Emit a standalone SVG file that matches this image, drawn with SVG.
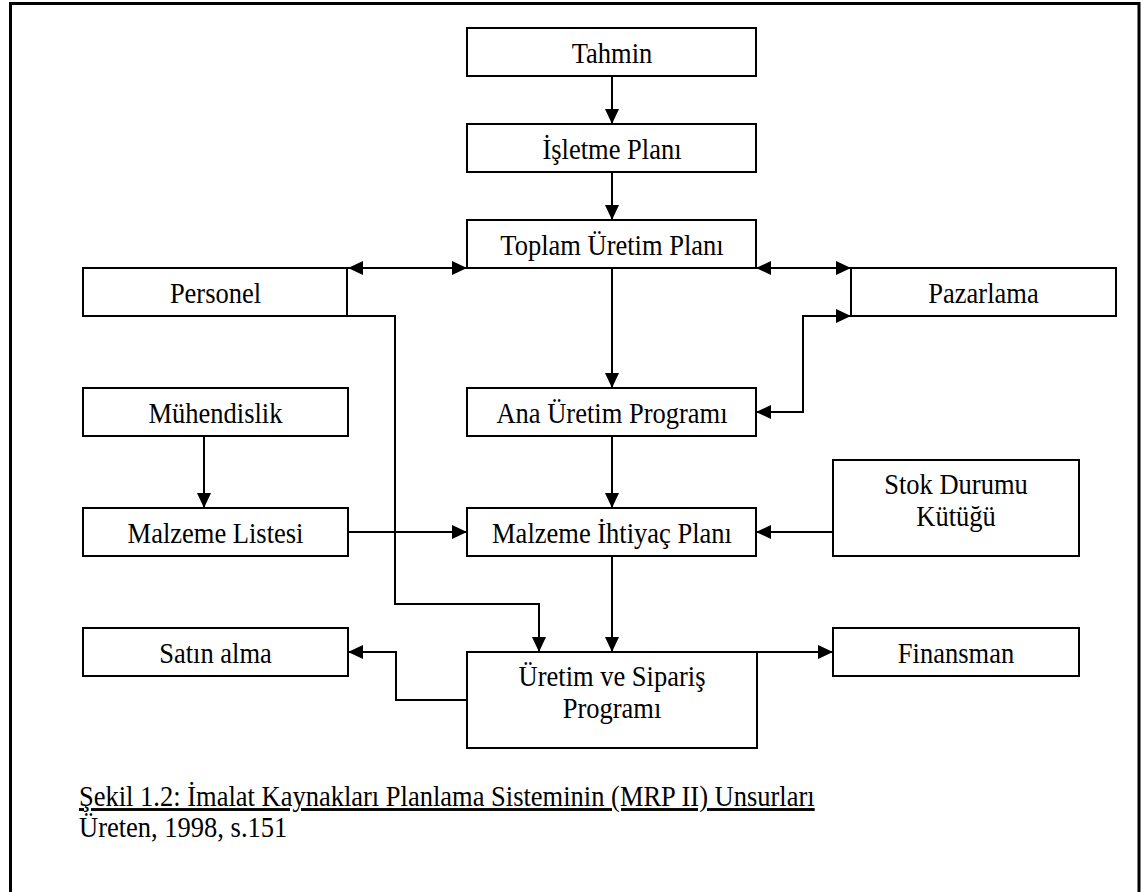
<svg xmlns="http://www.w3.org/2000/svg" width="1141" height="892" viewBox="0 0 1141 892">
  <style>
    .box { fill: #ffffff; stroke: #000000; stroke-width: 2; }
    .lbl { font-family: "Liberation Serif", "Times New Roman", serif; font-size: 26.5px; fill: #000000; text-anchor: middle; }
    .cap { font-family: "Liberation Serif", "Times New Roman", serif; font-size: 26.5px; fill: #000000; }
    .wire { fill: none; stroke: #000000; stroke-width: 2; }
    .frame { fill: none; stroke: #000000; stroke-width: 3; }
  </style>
  <defs>
    <marker id="ah" markerUnits="userSpaceOnUse" markerWidth="16" markerHeight="14" refX="15" refY="7" orient="auto-start-reverse">
      <path d="M0,0 L15,7 L0,14 Z" fill="#000000"/>
    </marker>
  </defs>

  <rect width="1141" height="892" fill="#ffffff"/>
  <!-- page frame, open at the bottom -->
  <path class="frame" d="M10.5,892 V3.5 H1139 V892"/>

  <!-- connectors -->
  <g id="connectors">
    <path class="wire" d="M612,76 V124" marker-end="url(#ah)"/>
    <path class="wire" d="M612,172 V220" marker-end="url(#ah)"/>
    <path class="wire" d="M612,268 V388" marker-end="url(#ah)"/>
    <path class="wire" d="M612,436 V508" marker-end="url(#ah)"/>
    <path class="wire" d="M612,556 V652" marker-end="url(#ah)"/>
    <path class="wire" d="M348,268 H467" marker-start="url(#ah)" marker-end="url(#ah)"/>
    <path class="wire" d="M756,268 H851" marker-start="url(#ah)" marker-end="url(#ah)"/>
    <path class="wire" d="M756,412 H803 V316 H851" marker-start="url(#ah)" marker-end="url(#ah)"/>
    <path class="wire" d="M347,316 H395 V604 H539 V652" marker-end="url(#ah)"/>
    <path class="wire" d="M204,436 V508" marker-end="url(#ah)"/>
    <path class="wire" d="M348,532 H467" marker-end="url(#ah)"/>
    <path class="wire" d="M833,532 H756" marker-end="url(#ah)"/>
    <path class="wire" d="M467,700 H396 V652 H348" marker-end="url(#ah)"/>
    <path class="wire" d="M757,652 H833" marker-end="url(#ah)"/>
  </g>

  <g id="tahmin">
    <rect class="box" x="467" y="28" width="289" height="48"/>
    <text class="lbl" transform="translate(612,63) scale(1,1.08)">Tahmin</text>
  </g>
  <g id="isletme-plani">
    <rect class="box" x="467" y="124" width="289" height="48"/>
    <text class="lbl" transform="translate(612,159) scale(1,1.08)">İşletme Planı</text>
  </g>
  <g id="toplam-uretim-plani">
    <rect class="box" x="467" y="220" width="289" height="48"/>
    <text class="lbl" transform="translate(612,255) scale(1,1.08)">Toplam Üretim Planı</text>
  </g>
  <g id="personel">
    <rect class="box" x="83" y="268" width="264" height="48"/>
    <text class="lbl" transform="translate(215.5,303) scale(1,1.08)">Personel</text>
  </g>
  <g id="pazarlama">
    <rect class="box" x="851" y="268" width="265" height="48"/>
    <text class="lbl" transform="translate(983.5,303) scale(1,1.08)">Pazarlama</text>
  </g>
  <g id="muhendislik">
    <rect class="box" x="83" y="388" width="265" height="48"/>
    <text class="lbl" transform="translate(215.5,423) scale(1,1.08)">Mühendislik</text>
  </g>
  <g id="ana-uretim-programi">
    <rect class="box" x="467" y="388" width="289" height="48"/>
    <text class="lbl" transform="translate(612,423) scale(1,1.08)">Ana Üretim Programı</text>
  </g>
  <g id="malzeme-listesi">
    <rect class="box" x="83" y="508" width="265" height="48"/>
    <text class="lbl" transform="translate(215.5,543) scale(1,1.08)">Malzeme Listesi</text>
  </g>
  <g id="malzeme-ihtiyac-plani">
    <rect class="box" x="467" y="508" width="289" height="48"/>
    <text class="lbl" transform="translate(612,543) scale(1,1.08)">Malzeme İhtiyaç Planı</text>
  </g>
  <g id="stok-durumu-kutugu">
    <rect class="box" x="833" y="460" width="246" height="96"/>
    <text class="lbl" transform="translate(956,494) scale(1,1.08)">Stok Durumu</text>
    <text class="lbl" transform="translate(956,526) scale(1,1.08)">Kütüğü</text>
  </g>
  <g id="satin-alma">
    <rect class="box" x="83" y="628" width="265" height="48"/>
    <text class="lbl" transform="translate(215.5,663) scale(1,1.08)">Satın alma</text>
  </g>
  <g id="uretim-ve-siparis-programi">
    <rect class="box" x="467" y="652" width="290" height="96"/>
    <text class="lbl" transform="translate(612,686) scale(1,1.08)">Üretim ve Sipariş</text>
    <text class="lbl" transform="translate(612,718) scale(1,1.08)">Programı</text>
  </g>
  <g id="finansman">
    <rect class="box" x="833" y="628" width="246" height="48"/>
    <text class="lbl" transform="translate(956,663) scale(1,1.08)">Finansman</text>
  </g>

  <g id="caption">
    <text class="cap" text-decoration="underline" transform="translate(79,806) scale(1,1.08)">Şekil 1.2: İmalat Kaynakları Planlama Sisteminin (MRP II) Unsurları</text>
    <text class="cap" transform="translate(79,837) scale(1,1.08)">Üreten, 1998, s.151</text>
  </g>
</svg>
